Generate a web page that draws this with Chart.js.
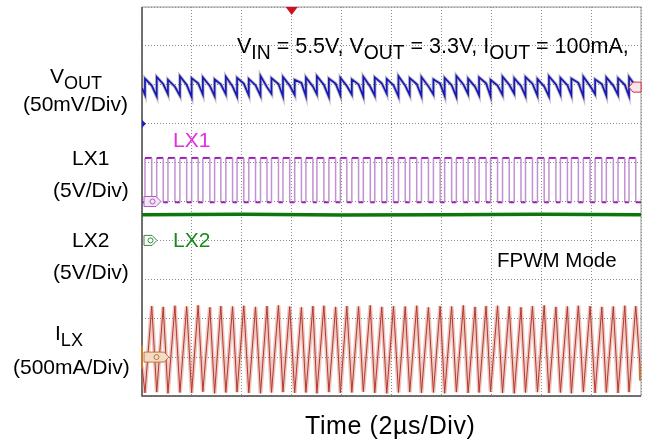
<!DOCTYPE html>
<html>
<head>
<meta charset="utf-8">
<script src="https://cdn.jsdelivr.net/npm/chart.js@4.4.1/dist/chart.umd.min.js"></script>
<style>
  body { margin: 0; background: #fff; }
  #wrap { position: relative; width: 645px; height: 444px; font-family: "Liberation Sans", Arial, sans-serif; color: #000; }
  #wrap canvas { position: absolute; left: 0; top: 0; }
  .lbl { position: absolute; line-height: 0; white-space: nowrap; font-size: 21px; }
  .lbl sub { font-size: 0.86em; vertical-align: -6px; line-height: 0; }
  .top sub { font-size: 0.9em; }
</style>
</head>
<body>
<div id="wrap">
  <canvas id="scope" width="645" height="444"></canvas>

  <div class="lbl" style="left:50px; top:76px;">V<sub>OUT</sub></div>
  <div class="lbl" style="left:23px; top:104px;">(50mV/Div)</div>
  <div class="lbl" style="left:72px; top:158px;">LX1</div>
  <div class="lbl" style="left:53px; top:190px;">(5V/Div)</div>
  <div class="lbl" style="left:72px; top:240px;">LX2</div>
  <div class="lbl" style="left:53px; top:272px;">(5V/Div)</div>
  <div class="lbl" style="left:55px; top:333px;">I<sub>LX</sub></div>
  <div class="lbl" style="left:13px; top:367px;">(500mA/Div)</div>

  <div class="lbl top" style="left:237px; top:45.5px; font-size:21.5px;">V<sub>IN</sub> = 5.5V, V<sub>OUT</sub> = 3.3V, I<sub>OUT</sub> = 100mA,</div>
  <div class="lbl" style="left:173px; top:140px; color:#e030e0;">LX1</div>
  <div class="lbl" style="left:173px; top:240px; color:#1a8a1a;">LX2</div>
  <div class="lbl" style="left:497px; top:260px; font-size:20.5px;">FPWM Mode</div>
  <div class="lbl" style="left:305px; top:425.3px; font-size:25px; letter-spacing:0.6px;">Time (2&micro;s/Div)</div>
</div>

<script>
// time axis: 0..20 us (2us/div), vertical axis in screen divisions 0..10
const timeMin = 0;
const timeMax = 20;
const divMin = 0;
const divMax = 10;

// switching edges (us): valleys = LX1 rises, peaks = LX1 falls
const valleyTimes = [0.12, 0.59, 1.04, 1.52, 1.99, 2.44, 2.91, 3.36, 3.81, 4.28, 4.75, 5.19, 5.65, 6.12, 6.57, 7.01, 7.49, 7.95, 8.41, 8.87, 9.33, 9.81, 10.28, 10.73, 11.20, 11.68, 12.13, 12.60, 13.07, 13.51, 13.97, 14.45, 14.92, 15.37, 15.85, 16.31, 16.77, 17.21, 17.69, 18.16, 18.61, 19.08, 19.52];
const peakTimes = [0.39, 0.85, 1.32, 1.79, 2.25, 2.72, 3.16, 3.63, 4.08, 4.55, 5.01, 5.47, 5.92, 6.39, 6.85, 7.29, 7.76, 8.21, 8.68, 9.15, 9.61, 10.08, 10.55, 11.01, 11.48, 11.95, 12.41, 12.88, 13.35, 13.79, 14.25, 14.72, 15.19, 15.65, 16.12, 16.59, 17.05, 17.49, 17.96, 18.43, 18.89, 19.35, 19.79];

// I_LX levels (div)
const ilxValleys = [0.08, 0.10, 0.07, 0.09, 0.08, 0.11, 0.07, 0.09, 0.10, 0.08, 0.07, 0.09, 0.10, 0.08, 0.09, 0.07, 0.10, 0.08, 0.09, 0.11, 0.08, 0.07, 0.09, 0.10, 0.08, 0.09, 0.07, 0.10, 0.08, 0.09, 0.11, 0.08, 0.07, 0.09, 0.10, 0.08, 0.09, 0.07, 0.10, 0.08, 0.09, 0.08, 0.10];
const ilxPeaks = [2.31, 2.29, 2.32, 2.30, 2.33, 2.28, 2.31, 2.30, 2.32, 2.29, 2.31, 2.33, 2.30, 2.28, 2.31, 2.32, 2.29, 2.31, 2.30, 2.33, 2.29, 2.31, 2.30, 2.32, 2.28, 2.31, 2.30, 2.33, 2.29, 2.31, 2.32, 2.30, 2.28, 2.31, 2.33, 2.29, 2.30, 2.32, 2.31, 2.29, 2.30, 2.32, 2.31];
const ilxEnds = [0.75, 0.40];

// LX1 low / high level (div)
const lx1Levels = [4.98, 6.12];

// LX2 sits at Vout
const lx2Times = [0, 4, 8, 12, 16, 20];
const lx2Values = [4.66, 4.67, 4.65, 4.66, 4.67, 4.66];

// V_OUT ripple (div): spike at each LX1 rise, then level at each fall
const voutSpikeLo = [7.74, 7.70, 7.76, 7.72, 7.69, 7.75, 7.71, 7.76, 7.70, 7.73, 7.72, 7.77, 7.70, 7.74, 7.71, 7.76, 7.69, 7.73, 7.75, 7.70, 7.72, 7.77, 7.70, 7.74, 7.71, 7.75, 7.72, 7.69, 7.76, 7.73, 7.70, 7.74, 7.77, 7.71, 7.72, 7.70, 7.75, 7.73, 7.70, 7.76, 7.72, 7.74, 7.71];
const voutSpikeHi = [8.16, 8.20, 8.13, 8.22, 8.17, 8.19, 8.14, 8.21, 8.18, 8.15, 8.23, 8.17, 8.20, 8.13, 8.19, 8.22, 8.16, 8.18, 8.14, 8.21, 8.19, 8.15, 8.22, 8.17, 8.20, 8.14, 8.18, 8.23, 8.16, 8.19, 8.13, 8.21, 8.17, 8.20, 8.15, 8.22, 8.18, 8.16, 8.21, 8.14, 8.19, 8.17, 8.20];
const voutMid = [7.98, 8.02, 7.95, 8.00, 8.04, 7.97, 8.01, 7.96, 8.03, 7.99, 7.94, 8.02, 7.98, 8.05, 7.96, 8.00, 8.03, 7.97, 8.01, 7.95, 8.04, 7.99, 7.98, 8.02, 7.96, 8.03, 7.99, 8.01, 7.95, 8.04, 7.98, 8.00, 7.97, 8.03, 7.96, 8.01, 7.99, 8.05, 7.97, 8.02, 7.98, 8.00, 7.96];
const voutEnds = [7.92, 7.95];

// channel ground markers (div) and trigger
const channelOffsets = [7, 5, 4, 1];
const triggerTime = 6;
const triggerLevel = 7.94;

// ---- build point lists from the arrays above
const ilxPts = [{ x: timeMin, y: ilxEnds[0] }];
const lx1Pts = [{ x: timeMin, y: lx1Levels[0] }];
const voutPts = [{ x: timeMin, y: voutEnds[0] }];
for (let i = 0; i < valleyTimes.length; i++) {
  ilxPts.push({ x: valleyTimes[i], y: ilxValleys[i] });
  ilxPts.push({ x: peakTimes[i], y: ilxPeaks[i] });

  lx1Pts.push({ x: valleyTimes[i], y: lx1Levels[0] });
  lx1Pts.push({ x: valleyTimes[i], y: lx1Levels[1] });
  lx1Pts.push({ x: peakTimes[i], y: lx1Levels[1] });
  lx1Pts.push({ x: peakTimes[i], y: lx1Levels[0] });

  voutPts.push({ x: valleyTimes[i], y: voutSpikeLo[i] });
  voutPts.push({ x: valleyTimes[i], y: voutSpikeHi[i] });
  voutPts.push({ x: peakTimes[i], y: voutMid[i] });
}
ilxPts.push({ x: timeMax, y: ilxEnds[1] });
lx1Pts.push({ x: timeMax, y: lx1Levels[0] });
voutPts.push({ x: timeMax, y: voutEnds[1] });
const lx2Pts = lx2Times.map((t, i) => ({ x: t, y: lx2Values[i] }));

// frame + channel tags, drawn with the scales
const scopeDecor = {
  id: "scopeDecor",
  beforeDatasetsDraw(chart) {
    const { ctx, chartArea: a } = chart;
    ctx.save();
    ctx.strokeStyle = "#9a9a9a";
    ctx.lineWidth = 1;
    ctx.strokeRect(a.left, a.top, a.right - a.left, a.bottom - a.top);
    ctx.strokeStyle = "#555";
    ctx.lineWidth = 1.5;
    ctx.beginPath();
    ctx.moveTo(a.left, a.top);
    ctx.lineTo(a.left, a.bottom);
    ctx.lineTo(a.right, a.bottom);
    ctx.stroke();
    ctx.restore();
  },
  afterDatasetsDraw(chart) {
    const { ctx, chartArea: a, scales: { x, y } } = chart;
    ctx.save();
    // V_OUT ground: small blue arrow
    let py = y.getPixelForValue(channelOffsets[0]);
    ctx.fillStyle = "#2020c0";
    ctx.beginPath();
    ctx.moveTo(a.left, py - 4);
    ctx.lineTo(a.left + 4, py);
    ctx.lineTo(a.left, py + 4);
    ctx.fill();

    const tag = (yy, w, fill, stroke) => {
      ctx.beginPath();
      ctx.moveTo(a.left + 2, yy - 5);
      ctx.lineTo(a.left + w - 5, yy - 5);
      ctx.lineTo(a.left + w, yy);
      ctx.lineTo(a.left + w - 5, yy + 5);
      ctx.lineTo(a.left + 2, yy + 5);
      ctx.closePath();
      ctx.fillStyle = fill;
      ctx.fill();
      ctx.lineWidth = 1;
      ctx.strokeStyle = stroke;
      ctx.stroke();
      ctx.beginPath();
      ctx.arc(a.left + w / 2 + 1, yy, 2.5, 0, Math.PI * 2);
      ctx.stroke();
    };
    tag(y.getPixelForValue(channelOffsets[1]), 19, "#f3e4f6", "#b060c0");
    tag(y.getPixelForValue(channelOffsets[2]), 15, "#ffffff", "#3a8a3a");
    tag(y.getPixelForValue(channelOffsets[3]), 27, "#f2dcc8", "#c07838");

    // I_LX side bars
    ctx.strokeStyle = "#c87a30";
    ctx.lineWidth = 2;
    ctx.beginPath();
    ctx.moveTo(a.left, y.getPixelForValue(1.3));
    ctx.lineTo(a.left, y.getPixelForValue(0.7));
    ctx.moveTo(a.right - 1, y.getPixelForValue(0.8));
    ctx.lineTo(a.right - 1, y.getPixelForValue(0.4));
    ctx.stroke();

    // trigger level tag on the right
    py = y.getPixelForValue(triggerLevel);
    ctx.fillStyle = "#fbe6ea";
    ctx.strokeStyle = "#d03040";
    ctx.lineWidth = 1;
    ctx.beginPath();
    ctx.moveTo(a.right - 12, py);
    ctx.lineTo(a.right - 8, py - 5);
    ctx.lineTo(a.right, py - 5);
    ctx.lineTo(a.right, py + 5);
    ctx.lineTo(a.right - 8, py + 5);
    ctx.closePath();
    ctx.fill();
    ctx.stroke();

    // trigger position arrow on top
    const px = x.getPixelForValue(triggerTime);
    ctx.fillStyle = "#d0101e";
    ctx.beginPath();
    ctx.moveTo(px - 6, a.top);
    ctx.lineTo(px + 6, a.top);
    ctx.lineTo(px, a.top + 8);
    ctx.fill();
    ctx.restore();
  },
};

const line = (data, color, width, order, extra) =>
  Object.assign({ data, borderColor: color, borderWidth: width, pointRadius: 0, tension: 0, fill: false, order }, extra || {});

new Chart(document.getElementById("scope"), {
  type: "line",
  data: {
    datasets: [
      line(voutPts, "rgba(100,100,120,0.42)", 3.5, 3),
      line(voutPts, "#1818b8", 1.7, 1),
      line(lx1Pts, "#9a22b0", 1.5, 1, {
        segment: {
          borderColor: (c) => (c.p0.parsed.x === c.p1.parsed.x ? "rgba(190,140,208,0.95)" : "#9a22b0"),
          borderWidth: (c) => (c.p0.parsed.x === c.p1.parsed.x ? 1.5 : 2),
        },
      }),
      line(lx2Pts, "#0c780c", 3.5, 1),
      line(ilxPts, "rgba(214,130,120,0.45)", 4, 3),
      line(ilxPts, "#b4382a", 1, 1),
    ],
  },
  options: {
    responsive: false,
    animation: false,
    events: [],
    layout: { padding: { left: 142, top: 7, right: 4, bottom: 48 } },
    scales: {
      x: {
        type: "linear",
        min: timeMin,
        max: timeMax,
        ticks: { display: false, stepSize: 2 },
        grid: { color: "#8a8a8a", lineWidth: 1, drawTicks: false },
        border: { display: false, dash: [1, 2] },
        afterFit: (s) => { s.height = 0; },
      },
      y: {
        min: divMin,
        max: divMax,
        ticks: { display: false, stepSize: 1 },
        grid: { color: "#8a8a8a", lineWidth: 1, drawTicks: false },
        border: { display: false, dash: [1, 2] },
        afterFit: (s) => { s.width = 0; },
      },
    },
    plugins: {
      legend: { display: false },
      title: { display: false },
      tooltip: { enabled: false },
    },
  },
  plugins: [scopeDecor],
});
</script>
</body>
</html>
